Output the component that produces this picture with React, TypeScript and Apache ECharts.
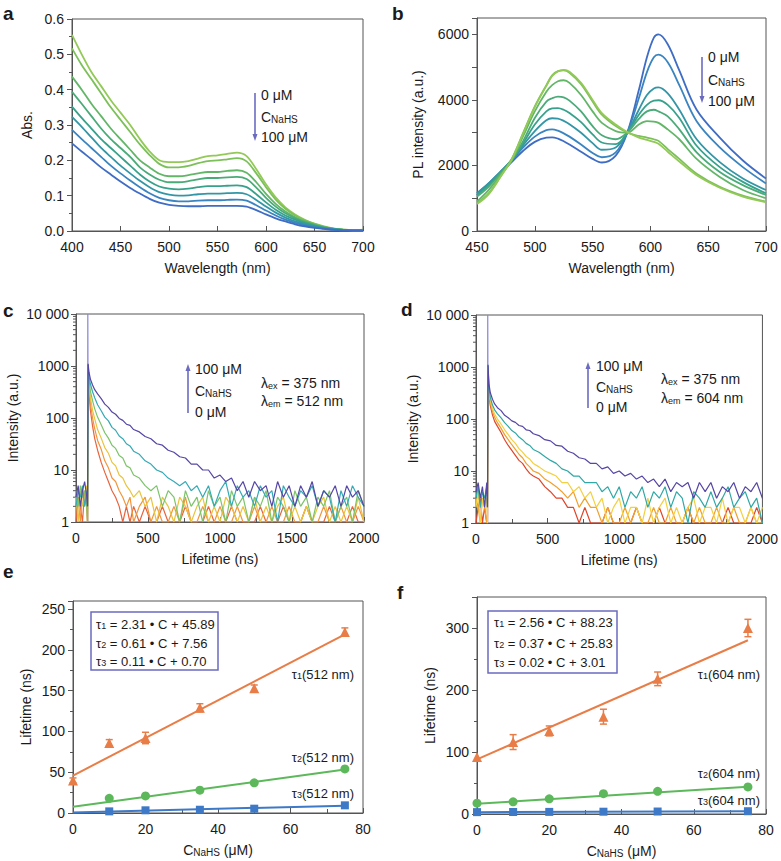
import React, { useEffect, useRef } from "react";
import * as echarts from "echarts";

const FONT = '"Liberation Sans", Arial, Helvetica, sans-serif';
const INK = "#1a1a1a";
const AXIS = "#555";

// ---------- Panel a: absorbance ----------
const wavelengthA = [400, 410, 420, 430, 440, 450, 460, 470, 480, 490, 500, 510, 520, 530, 540, 550, 560, 570, 580, 590, 600, 610, 620, 630, 640, 650, 660, 670, 680, 690, 700];
const absA0 = [0.555, 0.5, 0.45, 0.41, 0.37, 0.335, 0.3, 0.26, 0.225, 0.2, 0.195, 0.195, 0.198, 0.205, 0.212, 0.214, 0.218, 0.222, 0.212, 0.175, 0.132, 0.095, 0.067, 0.047, 0.032, 0.021, 0.013, 0.007, 0.004, 0.003, 0.004];
const absA1 = [0.517, 0.47, 0.43, 0.39, 0.35, 0.315, 0.28, 0.245, 0.215, 0.19, 0.18, 0.18, 0.184, 0.192, 0.198, 0.2, 0.203, 0.206, 0.197, 0.163, 0.124, 0.089, 0.063, 0.044, 0.03, 0.02, 0.012, 0.007, 0.004, 0.003, 0.003];
const absA2 = [0.437, 0.4, 0.36, 0.325, 0.29, 0.26, 0.23, 0.2, 0.18, 0.162, 0.155, 0.155, 0.158, 0.163, 0.167, 0.167, 0.17, 0.172, 0.165, 0.138, 0.105, 0.077, 0.055, 0.039, 0.027, 0.018, 0.011, 0.006, 0.003, 0.002, 0.002];
const absA3 = [0.394, 0.36, 0.325, 0.29, 0.26, 0.235, 0.21, 0.18, 0.16, 0.145, 0.138, 0.138, 0.141, 0.146, 0.15, 0.15, 0.152, 0.153, 0.147, 0.123, 0.094, 0.069, 0.05, 0.036, 0.025, 0.017, 0.01, 0.006, 0.003, 0.002, 0.002];
const absA4 = [0.352, 0.32, 0.29, 0.26, 0.235, 0.21, 0.185, 0.16, 0.14, 0.126, 0.12, 0.118, 0.12, 0.124, 0.127, 0.127, 0.128, 0.129, 0.124, 0.104, 0.081, 0.06, 0.044, 0.032, 0.022, 0.015, 0.009, 0.005, 0.003, 0.002, 0.002];
const absA5 = [0.323, 0.295, 0.265, 0.235, 0.21, 0.185, 0.163, 0.142, 0.124, 0.11, 0.103, 0.1, 0.101, 0.104, 0.106, 0.106, 0.107, 0.108, 0.104, 0.088, 0.069, 0.052, 0.038, 0.027, 0.019, 0.013, 0.008, 0.005, 0.003, 0.002, 0.002];
const absA6 = [0.286, 0.26, 0.235, 0.21, 0.185, 0.163, 0.143, 0.124, 0.107, 0.094, 0.087, 0.084, 0.084, 0.086, 0.087, 0.087, 0.088, 0.089, 0.086, 0.073, 0.058, 0.044, 0.032, 0.023, 0.016, 0.011, 0.007, 0.004, 0.002, 0.002, 0.002];
const absA7 = [0.248, 0.225, 0.203, 0.18, 0.16, 0.14, 0.122, 0.106, 0.091, 0.08, 0.074, 0.071, 0.07, 0.07, 0.071, 0.071, 0.071, 0.071, 0.069, 0.059, 0.047, 0.036, 0.027, 0.019, 0.013, 0.009, 0.006, 0.003, 0.002, 0.001, 0.001];
const absCurves = [absA0, absA1, absA2, absA3, absA4, absA5, absA6, absA7];
const greenBlue = ["#93c956", "#7cc05a", "#63b668", "#4aab79", "#38a18b", "#3396a6", "#3a84c0", "#3f6cc4"];

// ---------- Panel b: PL ----------
const wavelengthB = [450, 460, 470, 480, 490, 500, 510, 515, 520, 525, 530, 540, 550, 558, 570, 580, 590, 597, 603, 607, 615, 625, 640, 660, 680, 700];
const plB0 = [1100, 1400, 1750, 2100, 2450, 2720, 2850, 2860, 2820, 2740, 2640, 2420, 2200, 2090, 2300, 3000, 4300, 5300, 5900, 6000, 5700, 4900, 3700, 2850, 2150, 1600];
const plB1 = [1150, 1450, 1800, 2150, 2550, 2880, 3080, 3100, 3060, 2980, 2880, 2640, 2380, 2250, 2400, 3000, 4050, 4850, 5300, 5380, 5150, 4450, 3350, 2550, 1950, 1450];
const plB2 = [1150, 1450, 1800, 2170, 2620, 3050, 3380, 3440, 3430, 3360, 3260, 3000, 2680, 2480, 2550, 3000, 3700, 4150, 4350, 4380, 4200, 3700, 2800, 2100, 1600, 1250];
const plB3 = [1100, 1400, 1780, 2170, 2680, 3250, 3650, 3740, 3750, 3700, 3600, 3320, 2950, 2700, 2650, 3000, 3550, 3850, 3980, 3990, 3850, 3450, 2600, 1950, 1500, 1150];
const plB4 = [1050, 1350, 1750, 2150, 2750, 3450, 3950, 4050, 4100, 4080, 3980, 3650, 3200, 2920, 2800, 3000, 3420, 3650, 3700, 3650, 3500, 3100, 2400, 1800, 1400, 1100];
const plB5 = [900, 1250, 1700, 2150, 2900, 3650, 4250, 4450, 4570, 4600, 4520, 4150, 3650, 3300, 3050, 3000, 3250, 3350, 3340, 3300, 3100, 2800, 2200, 1650, 1250, 1000];
const plB6 = [850, 1150, 1650, 2200, 3000, 3800, 4450, 4750, 4880, 4900, 4830, 4480, 3950, 3550, 3200, 3000, 2900, 2850, 2800, 2750, 2500, 2200, 1750, 1350, 1080, 900];
const plB7 = [820, 1120, 1630, 2180, 2980, 3780, 4430, 4730, 4870, 4920, 4860, 4520, 4000, 3600, 3250, 3020, 2850, 2780, 2720, 2660, 2420, 2120, 1700, 1320, 1050, 880];
const plCurves = [plB0, plB1, plB2, plB3, plB4, plB5, plB6, plB7];
const blueGreen = ["#3f6cc4", "#3a84c0", "#3396a6", "#38a18b", "#4aab79", "#63b668", "#7cc05a", "#93c956"];

// ---------- Panels c, d: decays ----------
const timeNs = [0, 15, 30, 45, 60, 75, 80, 84, 90, 100, 115, 130, 150, 175, 200, 225, 250, 275, 300, 325, 350, 375, 400,
  440, 480, 520, 560, 600, 640, 680, 720, 760, 800, 840, 880, 920, 960, 1000, 1040, 1080, 1120, 1160, 1200,
  1240, 1280, 1320, 1360, 1400, 1440, 1480, 1520, 1560, 1600, 1640, 1680, 1720, 1760, 1800, 1840, 1880, 1920, 1960, 2000];

const decC_red = [1, 3, 2, 1, 4, 2, 1, 850, 320, 140, 70, 40, 24, 14, 9, 6, 4, 3, 2, 1, 2, 1, 2,
  1, 2, 1, 1, 2, 1, 1, 1, 2, 1, 1, 1, 2, 1, 1, 1, 2, 1, 1, 1, 1, 2, 1, 1, 1, 2, 1, 1, 1, 2, 1, 1, 1, 2, 1, 1, 1, 2, 1, 1];
const decC_orange = [2, 3, 1, 4, 2, 3, 1, 900, 380, 190, 100, 62, 37, 25, 15, 11, 7, 6, 4, 3, 2, 3, 1,
  2, 3, 1, 2, 1, 1, 2, 1, 3, 1, 1, 2, 1, 1, 2, 1, 1, 2, 1, 1, 2, 1, 1, 2, 1, 1, 2, 1, 1, 2, 1, 1, 2, 1, 1, 2, 1, 1, 2, 1];
const decC_yellow = [3, 1, 4, 2, 3, 5, 1, 950, 450, 250, 140, 96, 60, 41, 27, 21, 14, 12, 8, 7, 5, 4, 3,
  4, 2, 3, 1, 3, 2, 1, 3, 2, 1, 2, 3, 1, 2, 1, 3, 2, 1, 2, 1, 3, 1, 2, 1, 2, 3, 1, 2, 1, 2, 1, 2, 3, 1, 2, 1, 2, 1, 3, 1];
const decC_green = [4, 2, 5, 3, 4, 2, 1, 1000, 540, 330, 215, 150, 104, 74, 52, 41, 30, 26, 19, 17, 12, 11, 8,
  7, 5, 4, 5, 2, 4, 3, 1, 4, 2, 3, 1, 4, 2, 3, 1, 4, 2, 3, 1, 3, 2, 4, 1, 3, 2, 1, 4, 2, 3, 1, 3, 2, 4, 1, 2, 3, 1, 4, 2];
const decC_teal = [2, 4, 3, 5, 2, 4, 2, 1050, 640, 450, 320, 245, 180, 138, 104, 88, 66, 58, 45, 40, 32, 29, 23,
  20, 15, 13, 10, 9, 7, 6, 5, 6, 4, 5, 3, 5, 2, 4, 6, 2, 5, 3, 4, 2, 5, 3, 4, 1, 5, 3, 2, 4, 3, 5, 2, 4, 3, 1, 4, 2, 5, 3, 2];
const decC_purple = [3, 5, 2, 4, 6, 3, 2, 1100, 760, 560, 430, 350, 290, 235, 185, 160, 130, 118, 98, 90, 76, 72, 60,
  54, 44, 40, 32, 30, 24, 22, 18, 17, 13, 13, 10, 10, 7, 8, 6, 7, 4, 6, 3, 6, 4, 5, 2, 6, 3, 5, 2, 5, 3, 6, 2, 4, 3, 5, 2, 5, 3, 4, 2];
const decaysC = [decC_red, decC_orange, decC_yellow, decC_green, decC_teal, decC_purple];
const rainbowC = ["#e8643c", "#f0963c", "#e9c43c", "#7cc36a", "#34aab6", "#5646a6"];

const decD_red = [1, 2, 3, 1, 2, 1, 1, 950, 300, 180, 120, 90, 72, 55, 40, 31, 25, 20, 16, 14, 11, 9, 8,
  7, 5, 4, 3, 3, 2, 2, 1, 2, 1, 1, 1, 2, 1, 1, 1, 1, 2, 1, 1, 1, 2, 1, 1, 1, 1, 2, 1, 1, 1, 1, 1, 1, 2, 1, 1, 1, 1, 2, 1];
const decD_orange = [3, 2, 1, 3, 2, 1, 1, 980, 340, 200, 140, 108, 85, 66, 50, 40, 32, 26, 21, 18, 14, 12, 10,
  9, 7, 6, 5, 4, 3, 4, 2, 3, 2, 2, 1, 2, 1, 1, 2, 1, 2, 1, 1, 2, 1, 1, 2, 1, 1, 2, 1, 2, 1, 1, 2, 1, 1, 2, 1, 1, 2, 1, 1];
const decD_yellow = [2, 4, 1, 3, 2, 3, 1, 1000, 380, 230, 160, 125, 100, 80, 62, 50, 40, 34, 27, 23, 19, 17, 14,
  12, 10, 9, 8, 6, 6, 4, 5, 3, 4, 2, 3, 1, 2, 3, 1, 2, 2, 1, 3, 1, 2, 3, 1, 2, 1, 2, 3, 1, 2, 2, 1, 3, 1, 2, 2, 1, 2, 1, 2];
const decD_teal = [3, 5, 2, 4, 3, 5, 2, 1050, 420, 260, 185, 150, 125, 105, 85, 72, 60, 54, 45, 40, 34, 31, 26,
  23, 19, 16, 14, 11, 10, 8, 8, 6, 6, 6, 4, 5, 3, 5, 2, 4, 3, 5, 2, 4, 3, 5, 2, 4, 3, 1, 4, 3, 2, 4, 2, 3, 5, 2, 3, 4, 2, 3, 1];
const decD_purple = [4, 6, 3, 5, 2, 6, 2, 1100, 480, 320, 240, 195, 165, 145, 118, 106, 92, 86, 75, 72, 62, 60, 52,
  48, 40, 38, 31, 30, 24, 22, 18, 17, 14, 14, 11, 12, 9, 10, 8, 9, 7, 8, 6, 7, 5, 7, 4, 6, 5, 6, 3, 6, 4, 6, 3, 5, 4, 6, 3, 5, 4, 6, 3];
const decaysD = [decD_red, decD_orange, decD_yellow, decD_teal, decD_purple];
const rainbowD = ["#e0452a", "#f0a02c", "#f3d040", "#2fa8a6", "#5646a6"];

const spikeT = [81, 82, 83];
const spikeI = [1, 10000, 1000];
const logMinorTicks = [2, 3, 4, 5, 6, 7, 8, 9, 20, 30, 40, 50, 60, 70, 80, 90, 200, 300, 400, 500, 600, 700, 800, 900, 2000, 3000, 4000, 5000, 6000, 7000, 8000, 9000];

// ---------- Panels e, f: lifetimes ----------
const concNaHS = [0, 10, 20, 35, 50, 75];
const fitConc = [0, 75];

const tau1E = [40, 86, 92, 129, 153, 222];
const tau1E_err = [3, 4, 7, 5, 4, 5];
const tau2E = [null, 18, 21, 28, 37, 54];
const tau3E = [null, 2, 3.3, 4, 5.3, 9.4];
const fitE1 = [45.89, 219.1];
const fitE2 = [7.56, 53.3];
const fitE3 = [0.7, 9];

const tau1F = [92, 116, 134, 157, 218, 300];
const tau1F_err = [0, 12, 8, 12, 11, 14];
const tau2F = [17.5, 19.6, 24.5, 32.7, 36.5, 43.6];
const tau3F = [3, 3.2, 3.4, 3.7, 4, 4.5];
const fitF1 = [88.23, 280.2];
const fitF2 = [16.5, 43.8];
const fitF3 = [3, 4.5];

const ORANGE = "#e87d47";
const GREEN = "#5cb85a";
const BLUE = "#3d79c6";
const ARROW = "#6b6bc0";

const zip = (xs: number[], ys: (number | null)[]) => xs.map((x, i) => [x, ys[i]]);

function xAx(gi: number, min: number, max: number, interval: number, name: string, minor = 0) {
  return {
    type: "value", gridIndex: gi, min, max, interval,
    name, nameLocation: "middle", nameGap: 30,
    nameTextStyle: { color: INK, fontSize: 14, fontFamily: FONT, rich: { s: { fontSize: 10, fontFamily: FONT, color: INK, verticalAlign: "bottom", lineHeight: 14 } } },
    axisLine: { show: true, onZero: false, lineStyle: { color: AXIS, width: 1 } },
    axisTick: { show: true, inside: true, length: 5, lineStyle: { color: AXIS } },
    minorTick: { show: minor > 0, splitNumber: minor || 5, length: 4, lineStyle: { color: AXIS } },
    splitLine: { show: false },
    axisLabel: { color: INK, fontSize: 14, fontFamily: FONT, margin: 9, formatter: (v: number) => String(Math.round(v)) },
  };
}

function yAx(gi: number, min: number, max: number, interval: number, name: string, gap: number, minor: number, fmt?: (v: number) => string) {
  return {
    type: "value", gridIndex: gi, min, max, interval,
    name, nameLocation: "middle", nameGap: gap,
    nameTextStyle: { color: INK, fontSize: 14, fontFamily: FONT },
    axisLine: { show: true, onZero: false, lineStyle: { color: AXIS, width: 1 } },
    axisTick: { show: true, inside: false, length: 5, lineStyle: { color: AXIS } },
    minorTick: { show: minor > 0, splitNumber: minor || 5, length: 3, lineStyle: { color: AXIS } },
    splitLine: { show: false },
    axisLabel: { color: INK, fontSize: 14, fontFamily: FONT, margin: 8, formatter: fmt },
  };
}

function yLog(gi: number, gap: number) {
  return {
    type: "log", logBase: 10, gridIndex: gi, min: 1, max: 10000,
    name: "Intensity (a.u.)", nameLocation: "middle", nameGap: gap,
    nameTextStyle: { color: INK, fontSize: 14, fontFamily: FONT },
    axisLine: { show: true, onZero: false, lineStyle: { color: AXIS, width: 1 } },
    axisTick: { show: true, inside: false, length: 5, lineStyle: { color: AXIS } },
    splitLine: { show: false },
    axisLabel: {
      color: INK, fontSize: 14, fontFamily: FONT, margin: 7,
      formatter: (v: number) => { const r = Math.round(v); return r >= 10000 ? "10 000" : String(r); },
    },
  };
}

function minorTickSeries(xi: number) {
  return {
    type: "custom", xAxisIndex: xi, yAxisIndex: xi, silent: true, clip: false,
    data: logMinorTicks.map((v) => [0, v]),
    renderItem: (_p: any, api: any) => {
      const pt = api.coord([0, api.value(1)]);
      return { type: "line", shape: { x1: pt[0] - 3, y1: pt[1], x2: pt[0], y2: pt[1] }, style: { stroke: AXIS, lineWidth: 1 } };
    },
  };
}

function errorSeries(gi: number, xs: number[], ys: number[], errs: number[], color: string) {
  return {
    type: "custom", xAxisIndex: gi, yAxisIndex: gi, silent: true, clip: false, z: 3,
    data: xs.map((x, i) => [x, ys[i], errs[i]]).filter((d) => d[2] > 0),
    renderItem: (_p: any, api: any) => {
      const x = api.value(0), y = api.value(1), e = api.value(2);
      const hi = api.coord([x, y + e]);
      const lo = api.coord([x, y - e]);
      const w = 3.5;
      const st = { stroke: color, lineWidth: 1.5 };
      return {
        type: "group",
        children: [
          { type: "line", shape: { x1: hi[0], y1: hi[1], x2: lo[0], y2: lo[1] }, style: st },
          { type: "line", shape: { x1: hi[0] - w, y1: hi[1], x2: hi[0] + w, y2: hi[1] }, style: st },
          { type: "line", shape: { x1: lo[0] - w, y1: lo[1], x2: lo[0] + w, y2: lo[1] }, style: st },
        ],
      };
    },
  };
}

function fitLine(gi: number, ys: number[], color: string) {
  return { type: "line", xAxisIndex: gi, yAxisIndex: gi, data: zip(fitConc, ys), showSymbol: false, lineStyle: { color, width: 2 }, z: 2, silent: true };
}
function pts(gi: number, ys: (number | null)[], color: string, symbol: string, size: number) {
  return {
    type: "scatter", xAxisIndex: gi, yAxisIndex: gi, clip: false, z: 4,
    data: concNaHS.map((x, i) => [x, ys[i]]).filter((d) => d[1] !== null),
    symbol, symbolSize: size, itemStyle: { color, opacity: 1 },
  };
}

const subRich = {
  sub: { fontSize: 9, fontFamily: FONT, fill: INK, verticalAlign: "bottom", lineHeight: 12 },
  s: { fontSize: 10, fontFamily: FONT, fill: INK, verticalAlign: "bottom", lineHeight: 14 },
};

function txt(x: number, y: number, text: string, size = 14, align = "left", weight = "normal") {
  return {
    type: "text", x, y, silent: true,
    style: { text, fontSize: size, fontFamily: FONT, fontWeight: weight, fill: INK, align, verticalAlign: "middle", rich: subRich },
  };
}

function arrow(x: number, yTail: number, yHead: number) {
  const dir = yHead > yTail ? 1 : -1;
  return [
    { type: "line", silent: true, shape: { x1: x, y1: yTail, x2: x, y2: yHead - dir * 5 }, style: { stroke: ARROW, lineWidth: 1.6 } },
    { type: "polygon", silent: true, shape: { points: [[x - 2.5, yHead - dir * 7], [x + 2.5, yHead - dir * 7], [x, yHead]] }, style: { fill: ARROW } },
  ];
}

function buildOption() {
  const grids = [
    { left: 72, top: 19, width: 291, height: 212 },
    { left: 477, top: 18, width: 289, height: 213 },
    { left: 76, top: 314, width: 288, height: 208 },
    { left: 476, top: 315, width: 289, height: 208 },
    { left: 73, top: 601, width: 290, height: 212 },
    { left: 477, top: 597, width: 289, height: 217 },
  ].map((g) => ({ ...g, show: true, borderColor: AXIS, borderWidth: 1, backgroundColor: "transparent" }));

  const xAxis = [
    xAx(0, 400, 700, 50, "Wavelength (nm)"),
    xAx(1, 450, 700, 50, "Wavelength (nm)"),
    xAx(2, 0, 2000, 500, "Lifetime (ns)", 2),
    xAx(3, 0, 2000, 500, "Lifetime (ns)", 2),
    xAx(4, 0, 80, 20, "C{s|NaHS} (μM)", 2),
    xAx(5, 0, 80, 20, "C{s|NaHS} (μM)", 2),
  ];
  const yAxis = [
    yAx(0, 0, 0.6, 0.1, "Abs.", 38, 2, (v) => v.toFixed(1)),
    yAx(1, 0, 6500, 1000, "PL intensity (a.u.)", 52, 0, (v) => (Math.round(v) % 2000 === 0 ? String(Math.round(v)) : "")),
    yLog(2, 56),
    yLog(3, 56),
    yAx(4, 0, 260, 50, "Lifetime (ns)", 40, 2, (v) => (Math.round(v) % 50 === 0 ? String(Math.round(v)) : "")),
    yAx(5, 0, 350, 100, "Lifetime (ns)", 40, 2, (v) => (Math.round(v) % 100 === 0 ? String(Math.round(v)) : "")),
  ];

  const series: any[] = [];
  absCurves.forEach((ys, i) => series.push({
    type: "line", xAxisIndex: 0, yAxisIndex: 0, data: zip(wavelengthA, ys), smooth: 0.3, showSymbol: false,
    lineStyle: { color: greenBlue[i], width: 1.8 }, silent: true,
  }));
  plCurves.forEach((ys, i) => series.push({
    type: "line", xAxisIndex: 1, yAxisIndex: 1, data: zip(wavelengthB, ys), smooth: 0.35, showSymbol: false,
    lineStyle: { color: blueGreen[i], width: 1.8 }, silent: true,
  }));
  [[2, decaysC, rainbowC], [3, decaysD, rainbowD]].forEach(([gi, curves, cols]: any) => {
    curves.forEach((ys: number[], i: number) => series.push({
      type: "line", xAxisIndex: gi, yAxisIndex: gi, data: zip(timeNs, ys), showSymbol: false,
      lineStyle: { color: cols[i], width: 1.2 }, silent: true,
    }));
    series.push({
      type: "line", xAxisIndex: gi, yAxisIndex: gi, data: zip(spikeT, spikeI), showSymbol: false,
      lineStyle: { color: "#8a86d6", width: 1.2 }, silent: true, z: 1,
    });
    series.push(minorTickSeries(gi));
  });

  // panel e
  series.push(fitLine(4, fitE1, ORANGE), fitLine(4, fitE2, GREEN), fitLine(4, fitE3, BLUE));
  series.push(errorSeries(4, concNaHS, tau1E, tau1E_err, ORANGE));
  series.push(pts(4, tau1E, ORANGE, "triangle", 10), pts(4, tau2E, GREEN, "circle", 9), pts(4, tau3E, BLUE, "rect", 8));
  // panel f
  series.push(fitLine(5, fitF1, ORANGE), fitLine(5, fitF2, GREEN), fitLine(5, fitF3, BLUE));
  series.push(errorSeries(5, concNaHS, tau1F, tau1F_err, ORANGE));
  series.push(pts(5, tau1F, ORANGE, "triangle", 10), pts(5, tau2F, GREEN, "circle", 9), pts(5, tau3F, BLUE, "rect", 8));

  const graphic: any[] = [
    txt(3, 13, "a", 19, "left", "bold"),
    txt(392, 13, "b", 19, "left", "bold"),
    txt(3, 310, "c", 19, "left", "bold"),
    txt(401, 309, "d", 19, "left", "bold"),
    txt(3, 571, "e", 19, "left", "bold"),
    txt(397, 592, "f", 19, "left", "bold"),
    // a
    ...arrow(255, 93, 141),
    txt(261, 95, "0 μM"), txt(261, 117, "C{s|NaHS}"), txt(261, 137, "100 μM"),
    // b
    ...arrow(702, 57, 103),
    txt(708, 57, "0 μM"), txt(708, 80, "C{s|NaHS}"), txt(708, 101, "100 μM"),
    // c
    ...arrow(188, 413, 364),
    txt(195, 369, "100 μM"), txt(195, 391, "C{s|NaHS}"), txt(195, 412, "0 μM"),
    txt(261, 383, "λ{sub|ex} = 375 nm"), txt(261, 401, "λ{sub|em} = 512 nm"),
    // d
    ...arrow(588, 408, 362),
    txt(596, 366, "100 μM"), txt(596, 387, "C{s|NaHS}"), txt(596, 407, "0 μM"),
    txt(661, 379, "λ{sub|ex} = 375 nm"), txt(661, 398, "λ{sub|em} = 604 nm"),
    // e
    { type: "rect", silent: true, shape: { x: 91, y: 612, width: 127, height: 58 }, style: { fill: "#fff", stroke: ARROW, lineWidth: 1.5 }, z: 10 },
    { ...txt(96, 624, "τ{sub|1} = 2.31 • C + 45.89", 13), z: 11 },
    { ...txt(96, 643, "τ{sub|2} = 0.61 • C + 7.56", 13), z: 11 },
    { ...txt(96, 661, "τ{sub|3} = 0.11 • C + 0.70", 13), z: 11 },
    txt(354, 674, "τ{sub|1}(512 nm)", 13, "right"),
    txt(354, 757, "τ{sub|2}(512 nm)", 13, "right"),
    txt(354, 793, "τ{sub|3}(512 nm)", 13, "right"),
    // f
    { type: "rect", silent: true, shape: { x: 488, y: 611, width: 129, height: 62 }, style: { fill: "#fff", stroke: ARROW, lineWidth: 1.5 }, z: 10 },
    { ...txt(494, 622, "τ{sub|1} = 2.56 • C + 88.23", 13), z: 11 },
    { ...txt(494, 643, "τ{sub|2} = 0.37 • C + 25.83", 13), z: 11 },
    { ...txt(494, 662, "τ{sub|3} = 0.02 • C + 3.01", 13), z: 11 },
    txt(760, 674, "τ{sub|1}(604 nm)", 13, "right"),
    txt(760, 773, "τ{sub|2}(604 nm)", 13, "right"),
    txt(760, 800, "τ{sub|3}(604 nm)", 13, "right"),
  ];

  return {
    animation: false,
    backgroundColor: "#ffffff",
    textStyle: { fontFamily: FONT },
    grid: grids,
    xAxis,
    yAxis,
    series,
    graphic,
  };
}

export default function App() {
  const ref = useRef<HTMLDivElement>(null);
  useEffect(() => {
    if (!ref.current) return;
    const chart = echarts.init(ref.current, null, { renderer: "svg" });
    chart.setOption(buildOption() as any);
    return () => chart.dispose();
  }, []);
  return <div ref={ref} style={{ position: "absolute", left: 0, top: 0, width: 781, height: 861, background: "#fff" }} />;
}
